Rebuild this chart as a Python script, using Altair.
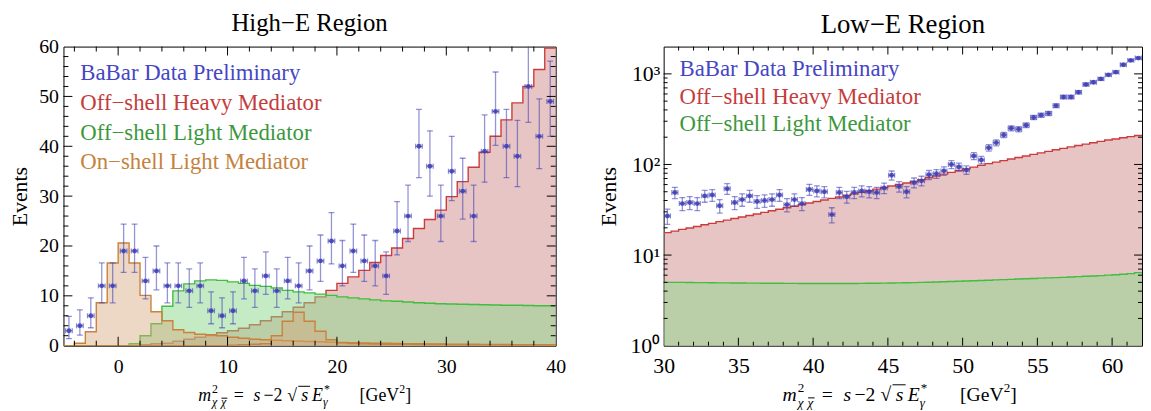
import altair as alt
import pandas as pd

FONT = "Liberation Serif"

# ---------------- High-E region (left panel) ----------------
hiE_centres = [-4.5, -3.5, -2.5, -1.5, -0.5, 0.5, 1.5, 2.5, 3.5, 4.5, 5.5, 6.5, 7.5, 8.5, 9.5,
               10.5, 11.5, 12.5, 13.5, 14.5, 15.5, 16.5, 17.5, 18.5, 19.5, 20.5, 21.5, 22.5, 23.5, 24.5,
               25.5, 26.5, 27.5, 28.5, 29.5, 30.5, 31.5, 32.5, 33.5, 34.5, 35.5, 36.5, 37.5, 38.5, 39.5]
hiE_counts = [3, 4, 6, 12, 12, 19, 19, 13, 15, 12, 12, 11, 12, 7, 6,
              7, 13, 11, 14, 11, 13, 12, 15, 17, 21, 16, 19, 17, 16, 14,
              23, 26, 40, 36, 26, 35, 31, 26, 39, 47, 40, 38, 52, 42, 49]
hiE_lo = [1.4, 2.1, 3.6, 8.6, 8.6, 14.7, 14.7, 9.4, 11.2, 8.6, 8.6, 7.7, 8.6, 4.4, 3.6,
          4.4, 9.4, 7.7, 10.3, 7.7, 9.4, 8.6, 11.2, 12.9, 16.4, 12.0, 14.7, 12.9, 12.0, 10.3,
          18.2, 20.9, 33.7, 30.0, 20.9, 29.1, 25.4, 20.9, 32.8, 40.2, 33.7, 31.9, 44.8, 35.5, 42.0]
hiE_hi = [5.9, 7.2, 9.6, 16.6, 16.6, 24.4, 24.4, 17.7, 20.0, 16.6, 16.6, 15.4, 16.6, 10.8, 9.6,
          10.8, 17.7, 15.4, 18.8, 15.4, 17.7, 16.6, 20.0, 22.2, 26.7, 21.1, 24.4, 22.2, 21.1, 18.8,
          28.9, 32.2, 47.4, 43.1, 32.2, 42.0, 37.6, 32.2, 46.3, 54.9, 47.4, 45.2, 60.3, 49.5, 57.1]
hiE_edges = [-5, -4, -3, -2, -1, 0, 1, 2, 3, 4, 5, 6, 7, 8, 9, 10, 11, 12, 13, 14, 15, 16, 17, 18, 19,
             20, 21, 22, 23, 24, 25, 26, 27, 28, 29, 30, 31, 32, 33, 34, 35, 36, 37, 38, 39, 40]
hiE_heavy = [0, 0, 0, 0, 0, 0, 0, 0.2, 0.4, 0.5, 0.9, 1.3, 1.7, 2.05, 2.6, 3.0, 3.5, 4.2, 5.0, 5.8,
             6.8, 7.7, 8.6, 9.8, 11.1, 12.5, 13.8, 15.1, 16.7, 18.1, 19.6, 21.5, 23.5, 25.3, 27.2,
             29.9, 32.9, 35.8, 38.8, 42.0, 45.3, 48.7, 52.0, 55.4, 59.7]
hiE_light = [0, 0, 0, 0, 0, 0, 0.4, 2.0, 4.4, 7.9, 11.0, 12.4, 13.0, 13.2, 13.1, 12.8, 12.5, 12.1,
             11.9, 11.6, 11.1, 10.8, 10.6, 10.35, 10.1, 9.8, 9.6, 9.4, 9.2, 9.0, 8.9, 8.75, 8.6, 8.5,
             8.4, 8.35, 8.3, 8.25, 8.2, 8.15, 8.1, 8.1, 8.05, 8.0, 8.0]
hiE_onshell_a = [0, 0.5, 2.8, 8.6, 16.6, 20.6, 16.6, 10.1, 6.8, 5.0, 3.2, 2.65, 2.3, 2.2, 2.0,
                 1.7, 1.5, 1.3, 1.2, 1.1, 1.0, 0.9, 0.85, 0.8, 0.7, 0.65, 0.6, 0.55, 0.5, 0.5,
                 0.45, 0.4, 0.4, 0.35, 0.35, 0.3, 0.3, 0.3, 0.25, 0.25, 0.25, 0.2, 0.2, 0.2, 0.2]
hiE_onshell_b = [0, 0, 0, 0, 0, 0, 0, 0, 0, 0, 0, 0, 0, 0, 0,
                 0.1, 0.2, 0.3, 0.4, 2.0, 4.9, 6.7, 4.9, 2.9, 1.2, 0.6, 0.45, 0.4, 0.35, 0.3,
                 0.3, 0.3, 0.25, 0.25, 0.25, 0.2, 0.2, 0.2, 0.2, 0.2, 0.15, 0.15, 0.15, 0.15, 0.15]
hiE_xlabels = [0, 10, 20, 30, 40]
hiE_ylabels = [0, 10, 20, 30, 40, 50, 60]
hiE_xmajor = [0, 10, 20, 30]
hiE_xminor = [-4, -2, 2, 4, 6, 8, 12, 14, 16, 18, 22, 24, 26, 28, 32, 34, 36, 38]
hiE_ymajor = [10, 20, 30, 40, 50]
hiE_yminor = [2, 4, 6, 8, 12, 14, 16, 18, 22, 24, 26, 28, 32, 34, 36, 38, 42, 44, 46, 48, 52, 54, 56, 58]

# ---------------- Low-E region (right panel) ----------------
loE_centres = [30.25, 30.75, 31.25, 31.75, 32.25, 32.75, 33.25, 33.75, 34.25, 34.75,
               35.25, 35.75, 36.25, 36.75, 37.25, 37.75, 38.25, 38.75, 39.25, 39.75,
               40.25, 40.75, 41.25, 41.75, 42.25, 42.75, 43.25, 43.75, 44.25, 44.75,
               45.25, 45.75, 46.25, 46.75, 47.25, 47.75, 48.25, 48.75, 49.25, 49.75,
               50.25, 50.75, 51.25, 51.75, 52.25, 52.75, 53.25, 53.75, 54.25, 54.75,
               55.25, 55.75, 56.25, 56.75, 57.25, 57.75, 58.25, 58.75, 59.25, 59.75,
               60.25, 60.75, 61.25, 61.75]
loE_counts = [27, 49, 37, 38, 37, 45, 46, 35, 54, 38,
              41, 45, 39, 40, 41, 46, 36, 41, 37, 53,
              51, 50, 28, 49, 44, 49, 51, 50, 49, 55,
              76, 57, 50, 63, 66, 77, 79, 85, 100, 94,
              87, 124, 112, 153, 174, 212, 251, 245, 271, 330,
              350, 366, 445, 555, 555, 626, 763, 809, 880, 975,
              1044, 1259, 1408, 1494]
loE_err = [5.2, 7.0, 6.1, 6.2, 6.1, 6.7, 6.8, 5.9, 7.3, 6.2,
           6.4, 6.7, 6.2, 6.3, 6.4, 6.8, 6.0, 6.4, 6.1, 7.3,
           7.1, 7.1, 5.3, 7.0, 6.6, 7.0, 7.1, 7.1, 7.0, 7.4,
           8.7, 7.5, 7.1, 7.9, 8.1, 8.8, 8.9, 9.2, 10.0, 9.7,
           9.3, 11.1, 10.6, 12.4, 13.2, 14.6, 15.8, 15.7, 16.5, 18.2,
           18.7, 19.1, 21.1, 23.6, 23.6, 25.0, 27.6, 28.4, 29.7, 31.2,
           32.3, 35.5, 37.5, 38.7]
loE_edges = [30, 30.5, 31, 31.5, 32, 32.5, 33, 33.5, 34, 34.5, 35, 35.5, 36, 36.5, 37, 37.5,
             38, 38.5, 39, 39.5, 40, 40.5, 41, 41.5, 42, 42.5, 43, 43.5, 44, 44.5, 45, 45.5,
             46, 46.5, 47, 47.5, 48, 48.5, 49, 49.5, 50, 50.5, 51, 51.5, 52, 52.5, 53, 53.5,
             54, 54.5, 55, 55.5, 56, 56.5, 57, 57.5, 58, 58.5, 59, 59.5, 60, 60.5, 61, 61.5, 62]
loE_heavy = [17.7, 18.4, 19.2, 19.9, 20.7, 21.6, 22.4, 23.4, 24.3, 25.3,
             26.3, 27.3, 28.4, 29.6, 30.8, 32.0, 33.3, 34.6, 36.0, 37.5,
             39.0, 40.5, 42.2, 43.8, 45.6, 47.4, 49.3, 51.3, 53.4, 55.5,
             57.8, 60.1, 62.5, 65.0, 68.1, 71.3, 74.6, 78.2, 81.9, 85.8,
             89.5, 93.5, 97.8, 102.1, 106.2, 110.4, 114.8, 119.4, 124.2, 129.1,
             134.3, 139.6, 145.2, 150.7, 156.3, 162.2, 167.9, 173.8, 179.9, 186.2,
             191.0, 197.0, 203.0, 209.0]
loE_light = [5.0, 5.0, 4.99, 4.98, 4.97, 4.96, 4.95, 4.94, 4.93, 4.92,
             4.91, 4.9, 4.9, 4.89, 4.88, 4.88, 4.87, 4.87, 4.86, 4.86,
             4.85, 4.85, 4.85, 4.85, 4.86, 4.86, 4.87, 4.88, 4.89, 4.9,
             4.91, 4.93, 4.95, 4.97, 4.99, 5.02, 5.05, 5.08, 5.11, 5.14,
             5.17, 5.2, 5.24, 5.28, 5.32, 5.36, 5.4, 5.44, 5.48, 5.52,
             5.56, 5.6, 5.64, 5.68, 5.73, 5.78, 5.83, 5.88, 5.94, 6.0,
             6.07, 6.15, 6.25, 6.4]
loE_xlabels = [30, 35, 40, 45, 50, 55, 60]
loE_ylabels = [1, 10, 100, 1000]
loE_xmajor = [35, 40, 45, 50, 55, 60]
loE_xminor = [31, 32, 33, 34, 36, 37, 38, 39, 41, 42, 43, 44, 46, 47, 48, 49,
              51, 52, 53, 54, 56, 57, 58, 59, 61]
loE_ymajor = [10, 100, 1000]
loE_yminor = [2, 3, 4, 5, 6, 7, 8, 9, 20, 30, 40, 50, 60, 70, 80, 90,
              200, 300, 400, 500, 600, 700, 800, 900]

legend_hi = [("BaBar Data Preliminary", "#4646c4"), ("Off−shell Heavy Mediator", "#c53c3c"),
             ("Off−shell Light Mediator", "#3c983c"), ("On−shell Light Mediator", "#c5823c")]
legend_lo = legend_hi[:3]

# ---------------- styles ----------------
BLUE = "#3c3cb4"
RED_LINE, RED_FILL = "#cc3b3b", "#c56e6e"
GREEN_LINE, GREEN_FILL = "#3fbf3f", "#8bd78b"
ORANGE_LINE, ORANGE_FILL = "#c8823c", "#d5a87c"

W1, W2, H = 497, 483, 302


class Panel:
    def __init__(self, xs, ys, ax, ay, W, H, base):
        self.xs, self.ys, self.ax, self.ay, self.W, self.H, self.base = xs, ys, ax, ay, W, H, base

    def X(self, f):
        return alt.X(f, scale=self.xs, axis=self.ax)

    def Y(self, f):
        return alt.Y(f, scale=self.ys, axis=self.ay)


def hist_layers(p, edges, vals, fill, line, op):
    df = pd.DataFrame({"x": edges, "y": list(vals) + [vals[-1]]})
    area = alt.Chart(df).mark_area(interpolate="step-after", color=fill, opacity=op, clip=True).encode(
        x=p.X("x:Q"), y=p.Y("y:Q"), y2=alt.datum(p.base))
    ln = alt.Chart(df).mark_line(interpolate="step-after", color=line, strokeWidth=1.4, clip=True).encode(
        x=p.X("x:Q"), y=p.Y("y:Q"))
    return [area, ln]


def data_layers(p, df):
    vr = alt.Chart(df).mark_rule(color=BLUE, opacity=0.55, strokeWidth=1.3, clip=True).encode(
        x=p.X("x:Q"), y=p.Y("lo:Q"), y2="hi:Q")
    vc = alt.Chart(df).transform_fold(["lo", "hi"], as_=["k", "v"]).mark_tick(
        orient="horizontal", size=6, thickness=1.3, color=BLUE, opacity=0.55, clip=True).encode(
        x=p.X("x:Q"), y=p.Y("v:Q"))
    hr = alt.Chart(df).mark_rule(color=BLUE, opacity=0.6, strokeWidth=1.3, clip=True).encode(
        x=p.X("xl:Q"), x2="xr:Q", y=p.Y("n:Q"))
    hc = alt.Chart(df).transform_fold(["xl", "xr"], as_=["k", "v"]).mark_tick(
        orient="vertical", size=5, thickness=1.3, color=BLUE, opacity=0.6, clip=True).encode(
        x=p.X("v:Q"), y=p.Y("n:Q"))
    pt = alt.Chart(df).mark_circle(size=24, color=BLUE, opacity=0.85, clip=True).encode(
        x=p.X("x:Q"), y=p.Y("n:Q"))
    return [vr, vc, hr, hc, pt]


def tick_layers(p, xmaj, xmin, ymaj, ymin, big, small):
    out = []
    for vals, ln in ((xmaj, big), (xmin, small)):
        d = pd.DataFrame({"v": vals})
        out.append(alt.Chart(d).mark_rule(color="black", strokeWidth=1).encode(
            x=p.X("v:Q"), y=alt.value(p.H), y2=alt.value(p.H - ln)))
        out.append(alt.Chart(d).mark_rule(color="black", strokeWidth=1).encode(
            x=p.X("v:Q"), y=alt.value(0), y2=alt.value(ln)))
    for vals, ln in ((ymaj, big), (ymin, small)):
        d = pd.DataFrame({"v": vals})
        out.append(alt.Chart(d).mark_rule(color="black", strokeWidth=1).encode(
            y=p.Y("v:Q"), x=alt.value(0), x2=alt.value(ln)))
        out.append(alt.Chart(d).mark_rule(color="black", strokeWidth=1).encode(
            y=p.Y("v:Q"), x=alt.value(p.W), x2=alt.value(p.W - ln)))
    return out


def legend_layers(lines, x, ys, size):
    out = []
    for (txt, col), y in zip(lines, ys):
        out.append(alt.Chart(pd.DataFrame({"t": [txt]})).mark_text(
            align="left", baseline="middle", font=FONT, fontSize=size, color=col).encode(
            text="t:N", x=alt.value(x), y=alt.value(y)))
    return out


def title_layer(text, W, y, size):
    return alt.Chart(pd.DataFrame({"t": [text]})).mark_text(
        align="center", baseline="alphabetic", font=FONT, fontSize=size, color="black").encode(
        text="t:N", x=alt.value(W / 2), y=alt.value(y))


def xtitle_layers(x0, base, s):
    pieces = [("m", 0, 0, 18, "italic"), ("2", 14, -8, 12, "normal"),
              ("χ", 14, 5, 12, "italic"), ("χ", 23, 5, 12, "italic"),
              ("=", 36, 0, 18, "normal"), ("s", 56, 0, 18, "italic"),
              ("−2", 66, 0, 18, "normal"), ("√", 90, 0, 18, "normal"),
              ("s", 104, 0, 18, "italic"), ("E", 115, 0, 18, "italic"),
              ("*", 127, -8, 12, "normal"), ("γ", 126, 5, 12, "italic"),
              ("[GeV", 163, 0, 18, "normal"), ("2", 203, -8, 12, "normal"),
              ("]", 209, 0, 18, "normal")]
    one = pd.DataFrame({"a": [0]})
    out = []
    for t, dx, dy, fs, st in pieces:
        out.append(alt.Chart(one).mark_text(text=t, align="left", baseline="alphabetic", font=FONT,
                                            fontSize=fs * s, fontStyle=st, color="black").encode(
            x=alt.value(x0 + dx * s), y=alt.value(base + dy * s)))
    out.append(alt.Chart(one).mark_rule(color="black", strokeWidth=1).encode(
        x=alt.value(x0 + 23.5 * s), x2=alt.value(x0 + 29.5 * s), y=alt.value(base - 3 * s)))
    out.append(alt.Chart(one).mark_rule(color="black", strokeWidth=1).encode(
        x=alt.value(x0 + 101 * s), x2=alt.value(x0 + 113 * s), y=alt.value(base - 15 * s)))
    return out


# ---------------- left panel ----------------
p1 = Panel(
    alt.Scale(domain=[-5, 40], nice=False, zero=False),
    alt.Scale(domain=[0, 60], nice=False, zero=False),
    alt.Axis(values=hiE_xlabels, ticks=False, domain=False, grid=False, title=None,
             labelFont=FONT, labelFontSize=20, labelColor="black", labelPadding=11, labelFlush=False),
    alt.Axis(values=hiE_ylabels, ticks=False, domain=False, grid=False, title="Events",
             titleFont=FONT, titleFontSize=22, titleFontWeight="normal", titleColor="black",
             titlePadding=7, labelFont=FONT, labelFontSize=20, labelColor="black", labelPadding=5,
             labelFlush=False),
    W1, H, 0)

pts1 = pd.DataFrame({"x": hiE_centres, "n": hiE_counts, "lo": hiE_lo, "hi": hiE_hi})
pts1["xl"] = pts1["x"] - 0.3
pts1["xr"] = pts1["x"] + 0.3

left_layers = []
left_layers += hist_layers(p1, hiE_edges, hiE_heavy, RED_FILL, RED_LINE, 0.4)
left_layers += hist_layers(p1, hiE_edges, hiE_light, GREEN_FILL, GREEN_LINE, 0.5)
left_layers += hist_layers(p1, hiE_edges, hiE_onshell_a, ORANGE_FILL, ORANGE_LINE, 0.45)
left_layers += hist_layers(p1, hiE_edges, hiE_onshell_b, ORANGE_FILL, ORANGE_LINE, 0.45)
left_layers += data_layers(p1, pts1)
left_layers += tick_layers(p1, hiE_xmajor, hiE_xminor, hiE_ymajor, hiE_yminor, 9, 5)
left_layers += legend_layers(legend_hi, 17, [27, 57, 87, 117], 23)
left_layers += xtitle_layers(136, H + 56, 1.0)
left_layers += [title_layer("High−E Region", W1, -16, 25)]

left = alt.layer(*left_layers).properties(width=W1, height=H)

# ---------------- right panel ----------------
p2 = Panel(
    alt.Scale(domain=[30, 62], nice=False, zero=False),
    alt.Scale(type="log", domain=[1, 2000], nice=False),
    alt.Axis(values=loE_xlabels, ticks=False, domain=False, grid=False, title=None,
             labelFont=FONT, labelFontSize=22, labelColor="black", labelPadding=10, labelFlush=False),
    alt.Axis(values=loE_ylabels, ticks=False, domain=False, grid=False, title="Events",
             titleFont=FONT, titleFontSize=22, titleFontWeight="normal", titleColor="black",
             titlePadding=10, labelFont=FONT, labelFontSize=22, labelColor="black", labelPadding=4,
             labelFlush=False,
             labelExpr="datum.value == 1 ? '10⁰' : datum.value == 10 ? '10¹' : datum.value == 100 ? '10²' : '10³'"),
    W2, H, 1)

pts2 = pd.DataFrame({"x": loE_centres, "n": loE_counts, "e": loE_err})
pts2["lo"] = pts2["n"] - pts2["e"]
pts2["hi"] = pts2["n"] + pts2["e"]
pts2["xl"] = pts2["x"] - 0.2
pts2["xr"] = pts2["x"] + 0.2

right_layers = []
right_layers += hist_layers(p2, loE_edges, loE_heavy, RED_FILL, RED_LINE, 0.4)
right_layers += hist_layers(p2, loE_edges, loE_light, GREEN_FILL, GREEN_LINE, 0.5)
right_layers += data_layers(p2, pts2)
right_layers += tick_layers(p2, loE_xmajor, loE_xminor, loE_ymajor, loE_yminor, 8, 4)
right_layers += legend_layers(legend_lo, 16, [23, 51, 78], 23)
right_layers += xtitle_layers(120, H + 56, 1.1)
right_layers += [title_layer("Low−E Region", W2, -14, 27)]

right = alt.layer(*right_layers).properties(width=W2, height=H)

chart = alt.hconcat(left, right, spacing=109, bounds="flush").properties(
    padding={"left": 0, "top": 0, "right": 0, "bottom": 0}
).configure_view(stroke="black", strokeWidth=1)

chart.save("out.html", embed_options={"renderer": "svg", "actions": False})
